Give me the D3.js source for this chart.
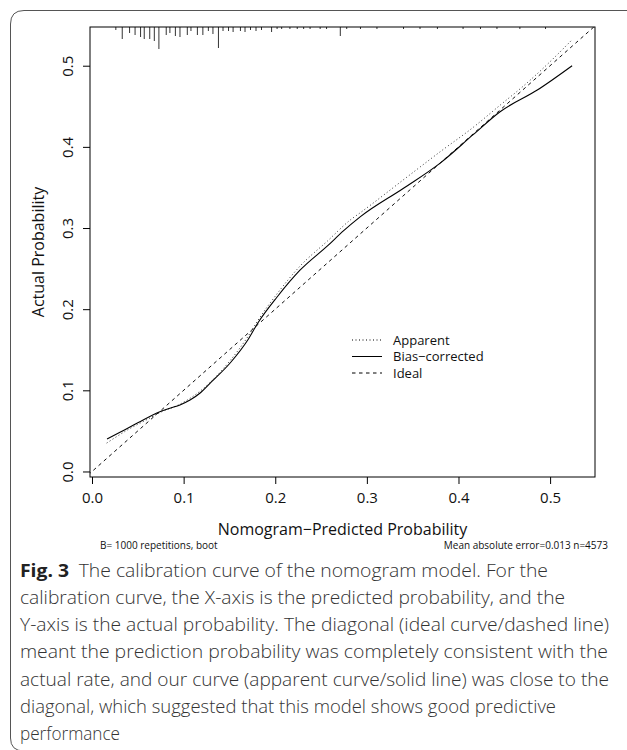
<!DOCTYPE html>
<html>
<head>
<meta charset="utf-8">
<script src="https://cdn.jsdelivr.net/npm/d3@7"></script>
<style>
  body { margin: 0; background: #fff; }
  svg { display: block; font-family: "Open Sans", "Noto Sans", sans-serif; }
</style>
</head>
<body>
<div id="chart"></div>
<script>
// tick values
const xTicks = [0, 0.1, 0.2, 0.3, 0.4, 0.5];
const yTicks = [0, 0.1, 0.2, 0.3, 0.4, 0.5];

// calibration curves
const apparentX = [0.016, 0.04, 0.06, 0.075, 0.096, 0.118, 0.151, 0.17, 0.181, 0.202, 0.227, 0.257, 0.282, 0.293, 0.344, 0.38, 0.416, 0.445, 0.475, 0.5, 0.524];
const apparentY = [0.035, 0.052, 0.064, 0.073, 0.083, 0.099, 0.137, 0.166, 0.186, 0.219, 0.253, 0.284, 0.31, 0.319, 0.363, 0.394, 0.424, 0.451, 0.479, 0.505, 0.532];
const biasX = [0.0164, 0.03, 0.05, 0.074, 0.085, 0.096, 0.107, 0.118, 0.13, 0.151, 0.17, 0.181, 0.202, 0.227, 0.257, 0.275, 0.293, 0.34, 0.38, 0.416, 0.445, 0.486, 0.524];
const biasY = [0.040, 0.048, 0.060, 0.0737, 0.078, 0.082, 0.088, 0.0967, 0.11, 0.134, 0.162, 0.183, 0.215, 0.248, 0.278, 0.297, 0.314, 0.349, 0.38, 0.415, 0.443, 0.470, 0.500];
const idealX = [-0.01, 0.56];
const idealY = [-0.01, 0.56];

// distribution of predictions (spikes along the top)
const rugX = [0.026, 0.033, 0.041, 0.047, 0.053, 0.057, 0.063, 0.068, 0.073, 0.081, 0.085, 0.091, 0.096, 0.104, 0.108, 0.115, 0.121, 0.127, 0.132, 0.138, 0.143, 0.149, 0.154, 0.162, 0.167, 0.173, 0.179, 0.185, 0.196, 0.202, 0.207, 0.216, 0.224, 0.231, 0.238, 0.249, 0.256, 0.271, 0.278, 0.293, 0.311, 0.340, 0.358, 0.377, 0.405, 0.424, 0.442, 0.467, 0.495];
const rugFreq = [3, 12, 6, 8, 10, 12, 12, 14, 22, 8, 6, 9, 10, 8, 4, 8, 8, 4, 7, 21, 4, 4, 5, 4, 5, 3, 4, 3, 5, 2, 2, 2, 2, 2, 2, 2, 2, 9, 2, 2, 2, 2, 2, 2, 2, 2, 2, 2, 2];

const legendLabels = ['Apparent', 'Bias\u2212corrected', 'Ideal'];
const xTitle = 'Nomogram\u2212Predicted Probability';
const yTitle = 'Actual Probability';
const subLeft = 'B= 1000 repetitions, boot';
const subRight = 'Mean absolute error=0.013 n=4573';
const captionLines = [
  'calibration curve, the X-axis is the predicted probability, and the',
  'Y-axis is the actual probability. The diagonal (ideal curve/dashed line)',
  'meant the prediction probability was completely consistent with the',
  'actual rate, and our curve (apparent curve/solid line) was close to the',
  'diagonal, which suggested that this model shows good predictive',
  'performance'
];
const captionWidths = [545, 589, 588, 589, 536, 100];

const width = 627;
const height = 750;
const plotLeft = 90, plotRight = 595, plotTop = 27, plotBottom = 477;

const svg = d3.select('#chart').append('svg').attr('width', width).attr('height', height);

// frame round figure + caption
svg.append('path')
  .attr('d', 'M627,10.5 H24 Q10.5,10.5 10.5,24 V738 Q10.5,751 24,751')
  .attr('fill', 'none').attr('stroke', '#555').attr('stroke-width', 1);

const x = d3.scaleLinear().domain([-0.0022, 0.549]).range([plotLeft, plotRight]);
const y = d3.scaleLinear().domain([-0.0068, 0.5477]).range([plotBottom, plotTop]);

svg.append('clipPath').attr('id', 'clip').append('rect')
  .attr('x', plotLeft).attr('y', plotTop).attr('width', plotRight - plotLeft).attr('height', plotBottom - plotTop);

const line = d3.line().x(d => x(d[0])).y(d => y(d[1]));
const smooth = d3.line().x(d => x(d[0])).y(d => y(d[1])).curve(d3.curveMonotoneX);

const g = svg.append('g').attr('clip-path', 'url(#clip)');

g.append('path').datum(d3.zip(idealX, idealY)).attr('d', line)
  .attr('fill', 'none').attr('stroke', '#111').attr('stroke-width', 1).attr('stroke-dasharray', '3.5,3.5');
g.append('path').datum(d3.zip(apparentX, apparentY)).attr('d', smooth)
  .attr('fill', 'none').attr('stroke', '#333').attr('stroke-width', 1).attr('stroke-dasharray', '1,2.5');
g.append('path').datum(d3.zip(biasX, biasY)).attr('d', smooth)
  .attr('fill', 'none').attr('stroke', '#000').attr('stroke-width', 1.1);

// spikes
const rugLen = d3.scaleLinear().domain([0, d3.max(rugFreq)]).range([0, 22]);
svg.append('g').selectAll('line').data(d3.zip(rugX, rugFreq)).join('line')
  .attr('x1', d => x(d[0])).attr('x2', d => x(d[0]))
  .attr('y1', plotTop).attr('y2', d => plotTop + rugLen(d[1]))
  .attr('stroke', '#333').attr('stroke-width', 1);

// box
svg.append('rect').attr('x', plotLeft).attr('y', plotTop).attr('width', plotRight - plotLeft).attr('height', plotBottom - plotTop)
  .attr('fill', 'none').attr('stroke', '#000').attr('stroke-width', 1);

// axes
const xAxis = svg.append('g').attr('transform', `translate(0,${plotBottom})`)
  .call(d3.axisBottom(x).tickValues(xTicks).tickFormat(d3.format('.1f')).tickSize(7).tickPadding(8));
xAxis.select('.domain').remove();
xAxis.attr('font-size', 15).attr('font-family', null);
xAxis.selectAll('text').attr('fill', '#111');

const yAxis = svg.append('g').attr('transform', `translate(${plotLeft},0)`)
  .call(d3.axisLeft(y).tickValues(yTicks).tickFormat(d3.format('.1f')).tickSize(7));
yAxis.select('.domain').remove();
yAxis.attr('font-size', 15).attr('font-family', null);
yAxis.selectAll('text').attr('fill', '#111')
  .attr('x', null).attr('dy', null).attr('text-anchor', 'middle')
  .attr('transform', 'translate(-17,0) rotate(-90)');

// titles
svg.append('text').attr('x', (plotLeft + plotRight) / 2).attr('y', 535).attr('text-anchor', 'middle')
  .attr('font-size', 16).attr('fill', '#111').text(xTitle);
svg.append('text').attr('transform', `translate(44,${(plotTop + plotBottom) / 2}) rotate(-90)`).attr('text-anchor', 'middle')
  .attr('font-size', 16).attr('fill', '#111').text(yTitle);
svg.append('text').attr('x', 100).attr('y', 549).attr('font-size', 10).attr('fill', '#111').text(subLeft);
svg.append('text').attr('x', 608).attr('y', 549).attr('text-anchor', 'end').attr('font-size', 10).attr('fill', '#111').text(subRight);

// legend
const legendDash = ['1,2.5', null, '3.5,3.5'];
const leg = svg.append('g').selectAll('g').data(legendLabels).join('g')
  .attr('transform', (d, i) => `translate(352,${340 + i * 16.5})`);
leg.append('line').attr('x1', 0).attr('x2', 30).attr('stroke', '#000').attr('stroke-width', 1)
  .attr('stroke-dasharray', (d, i) => legendDash[i]);
leg.append('text').attr('x', 41).attr('dy', '0.35em').attr('font-size', 13).attr('fill', '#111').text(d => d);

// caption
const cap = svg.append('text').attr('x', 20).attr('y', 577).attr('font-size', 18).attr('fill', '#333')
  .attr('font-weight', 300)
  .attr('textLength', 528).attr('lengthAdjust', 'spacingAndGlyphs');
cap.append('tspan').attr('font-weight', 700).attr('fill', '#222').text('Fig. 3');
cap.append('tspan').text('\u2002The calibration curve of the nomogram model. For the');
svg.append('g').selectAll('text').data(captionLines).join('text')
  .attr('x', 20).attr('y', (d, i) => 604 + i * 27.2)
  .attr('font-size', 18).attr('fill', '#333').attr('font-weight', 300)
  .attr('textLength', (d, i) => captionWidths[i]).attr('lengthAdjust', 'spacingAndGlyphs')
  .text(d => d);
</script>
</body>
</html>
